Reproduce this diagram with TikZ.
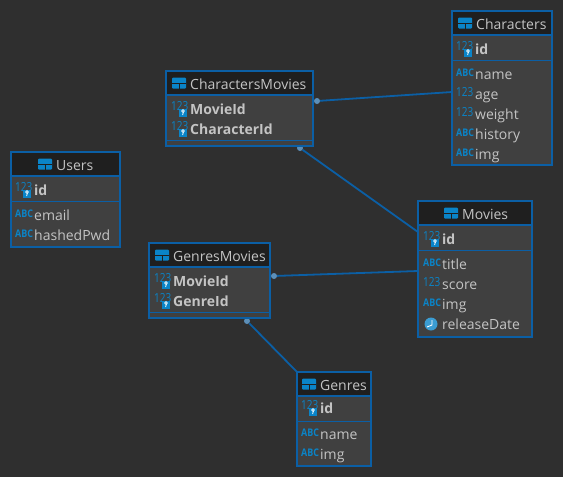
\documentclass[tikz,border=0pt]{standalone}
\usepackage{fontspec}
\setmainfont{Open Sans}
\definecolor{bgcol}{HTML}{2F2F2F}
\definecolor{bodycol}{HTML}{404040}
\definecolor{headcol}{HTML}{1F1F1F}
\definecolor{edgecol}{HTML}{0B5FA5}
\definecolor{iconcol}{HTML}{0A84C8}
\definecolor{dotcol}{HTML}{5C8FB8}
\definecolor{txtcol}{HTML}{C4C4C4}
\tikzset{
  tablebox/.style={draw=edgecol,fill=bodycol,line width=2pt,anchor=north west,inner sep=0pt,outer sep=0pt},
  headbox/.style={tablebox,fill=headcol},
  coltext/.style={text=txtcol,anchor=base west,inner sep=0pt,font=\fontsize{14}{14}\selectfont},
  keytext/.style={coltext,font=\fontsize{14}{14}\selectfont\bfseries},
  abcicon/.style={text=iconcol,anchor=base west,inner sep=0pt,font=\fontsize{10.5}{10.5}\selectfont\bfseries},
  numicon/.style={text=iconcol,anchor=base west,inner sep=0pt,font=\fontsize{12.5}{12.5}\selectfont},
  keyicon/.style={fill=iconcol,inner sep=0pt,minimum size=8pt},
  clockicon/.style={fill=iconcol!80!white,circle,inner sep=0pt,minimum size=13pt},
  tabicon/.style={fill=iconcol,rounded corners=1pt,inner sep=0pt,minimum width=14pt,minimum height=11pt},
  conn/.style={draw=edgecol,line width=1.8pt},
  dot/.style={fill=dotcol,circle,inner sep=0pt,minimum size=6pt},
}
% name, left, top, right, bottom, divider, title x, title
\newcommand{\dbtable}[8]{
  \node[tablebox,minimum width={(#4-#2)*1pt},minimum height={(#5-#3)*1pt}] (#1) at (#2,#3) {};
  \node[headbox,minimum width={(#4-#2)*1pt},minimum height=24pt] (#1Head) at (#2,#3) {};
  \draw[edgecol,line width=1pt] (#2,#6) -- (#4,#6);
  \node[tabicon] (#1Icon) at ({#7-11},{#3+12}) {};
  \draw[headcol,line width=1pt] (#1Icon.west) -- (#1Icon.east);
  \draw[headcol,line width=1pt] ({#7-11},{#3+12}) -- ({#7-11},{#3+17.5});
  \node[coltext] (#1Title) at (#7,{#3+18}) {#8};
}
% name, text x, baseline, text
\newcommand{\keycol}[4]{
  \node[numicon] (#1Num) at ({#2-19},{#3-4}) {\scalebox{.8}[1]{123}};
  \node[keyicon] (#1Key) at ({#2-7},{#3-1.5}) {};
  \draw[white,line width=.7pt] ({#2-7},{#3-3}) circle (1.4pt);
  \draw[white,line width=.8pt] ({#2-6.6},{#3-2}) -- ({#2-7.4},{#3+1});
  \node[keytext] (#1) at (#2,#3) {#4};
}
\newcommand{\abccol}[4]{
  \node[abcicon] (#1Abc) at ({#2-19},{#3-3}) {\scalebox{.85}[1]{ABC}};
  \node[coltext] (#1) at (#2,#3) {#4};
}
\newcommand{\numcol}[4]{
  \node[numicon] (#1Num) at ({#2-19},{#3-3}) {\scalebox{.8}[1]{123}};
  \node[coltext] (#1) at (#2,#3) {#4};
}
\newcommand{\timecol}[4]{
  \node[clockicon] (#1Clock) at ({#2-11},{#3-5}) {};
  \draw[white,line width=.9pt] ({#2-10},{#3-9}) -- ({#2-10},{#3-4}) -- ({#2-15},{#3-2});
  \node[coltext] (#1) at (#2,#3) {#4};
}
\begin{document}
\begin{tikzpicture}[x=1pt,y=-1pt]
\useasboundingbox (0,0) rectangle (563,477);
\fill[bgcol] (0,0) rectangle (563,477);

% the connectors
\node[dot] (charMovDotA) at (317,101) {};
\node[dot] (charMovDotB) at (300,148) {};
\node[dot] (genMovDotA) at (274,276) {};
\node[dot] (genMovDotB) at (247,321) {};
\coordinate (charactersEnd) at (452,92);
\coordinate (moviesEndA) at (418,232);
\coordinate (moviesEndB) at (418,271);
\coordinate (genresEnd) at (299,374);
\draw[conn] (charMovDotA) -- (charactersEnd);
\draw[conn] (charMovDotB) -- (moviesEndA);
\draw[conn] (genMovDotA) -- (moviesEndB);
\draw[conn] (genMovDotB) -- (genresEnd);

% the tables
\dbtable{users}{11}{152}{120}{247}{201}{56}{Users}
\keycol{usersId}{34}{195}{id}
\abccol{usersEmail}{34}{220}{email}
\abccol{usersPwd}{34}{240}{hashedPwd}

\dbtable{charMov}{166}{71}{313}{146}{140}{190}{CharactersMovies}
\keycol{charMovMovie}{190}{114}{MovieId}
\keycol{charMovChar}{190}{134}{CharacterId}

\dbtable{characters}{452}{11}{552}{165}{60}{476}{Characters}
\keycol{charId}{475}{54}{id}
\abccol{charName}{475}{79}{name}
\numcol{charAge}{475}{99}{age}
\numcol{charWeight}{475}{119}{weight}
\abccol{charHistory}{475}{139}{history}
\abccol{charImg}{475}{159}{img}

\dbtable{genMov}{149}{243}{270}{318}{312}{173}{GenresMovies}
\keycol{genMovMovie}{173}{286}{MovieId}
\keycol{genMovGenre}{173}{306}{GenreId}

\dbtable{movies}{418}{201}{532}{337}{250}{462}{Movies}
\keycol{moviesId}{442}{244}{id}
\abccol{moviesTitle}{442}{269}{title}
\numcol{moviesScore}{442}{289}{score}
\abccol{moviesImg}{442}{309}{img}
\timecol{moviesDate}{442}{329}{releaseDate}

\dbtable{genres}{297}{372}{371}{466}{421}{320}{Genres}
\keycol{genresId}{320}{413}{id}
\abccol{genresName}{320}{439}{name}
\abccol{genresImg}{320}{459}{img}
\end{tikzpicture}
\end{document}
